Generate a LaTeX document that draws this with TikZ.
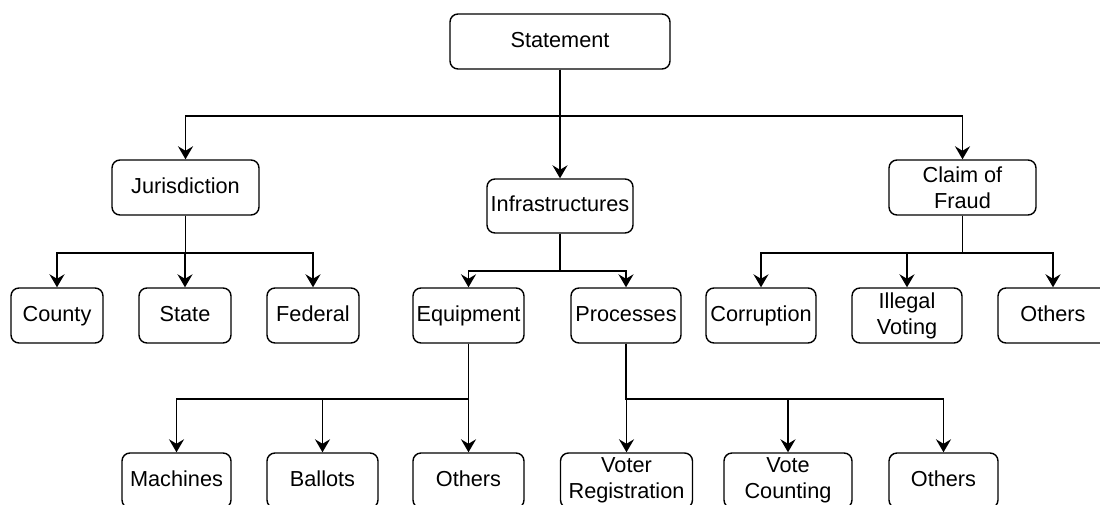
\documentclass[tikz,border=0pt]{standalone}
\usepackage{fontspec}
\setmainfont{Liberation Sans}
\usepackage{tikz}
\usetikzlibrary{arrows.meta}
\tikzset{
  box/.style={draw=black, line width=1.4pt, rounded corners=8pt, align=center,
    inner sep=0pt, minimum height=55pt, font=\fontsize{21.7}{26}\selectfont},
  onebox/.style={box, text height=15.6pt, text depth=4.6pt},
  conn/.style={black, line width=1.9pt, -{Stealth[length=13pt,width=15pt,inset=4.5pt]}}
}

\begin{document}
\begin{tikzpicture} [x=1pt,y=-1pt]
\useasboundingbox (0,0) rectangle (1100,504);
\clip (0,0) rectangle (1100,504);
% top levels
\node[onebox, minimum width=220pt] (stmt) at (560,41.5) {Statement};
\node[onebox, minimum width=147pt] (jur) at (185.5,187.5) {Jurisdiction};
\node[onebox, minimum width=146pt, minimum height=54pt] (inf) at (560,206) {Infrastructures};
\node[box, minimum width=147pt] (clm) at (962.5,187.5) {Claim of\\Fraud};
% second row
\node[onebox, minimum width=92pt] (cty) at (57,315.5) {County};
\node[onebox, minimum width=92pt] (sta) at (185,315.5) {State};
\node[onebox, minimum width=92pt] (fed) at (313,315.5) {Federal};
\node[onebox, minimum width=111pt] (equ) at (468.5,315.5) {Equipment};
\node[onebox, minimum width=110pt] (prc) at (626,315.5) {Processes};
\node[onebox, minimum width=110pt] (cor) at (761,315.5) {Corruption};
\node[box, minimum width=110pt] (ilv) at (907,315.5) {Illegal\\Voting};
\node[onebox, minimum width=110pt] (oth1) at (1053,315.5) {Others};
% third row
\node[onebox, minimum width=109pt] (mac) at (176.5,480.5) {Machines};
\node[onebox, minimum width=111pt] (bal) at (322.5,480.5) {Ballots};
\node[onebox, minimum width=111pt] (oth2) at (468.5,480.5) {Others};
\node[box, minimum width=132pt] (vrg) at (626.5,480.5) {Voter\\Registration};
\node[box, minimum width=128pt] (vct) at (788,480.5) {Vote\\Counting};
\node[onebox, minimum width=109pt] (oth3) at (943.5,480.5) {Others};
% connectors
\foreach \c in {jur,clm}
  \draw[conn] (stmt.south) -- ++(0,46) -| (\c.north);
\draw[conn] (stmt.south) -- (inf.north);
\foreach \c in {cty,sta,fed}
  \draw[conn] (jur.south) -- ++(0,37) -| (\c.north);
\foreach \c in {equ,prc}
  \draw[conn] (inf.south) -- ++(0,37) -| (\c.north);
\foreach \c in {cor,ilv,oth1}
  \draw[conn] (clm.south) -- ++(0,37) -| (\c.north);
\foreach \c in {mac,bal,oth2}
  \draw[conn] (equ.south) -- ++(0,55) -| (\c.north);
\foreach \c in {vrg,vct,oth3}
  \draw[conn] (prc.south) -- ++(0,55) -| (\c.north);
\end{tikzpicture}
\end{document}
